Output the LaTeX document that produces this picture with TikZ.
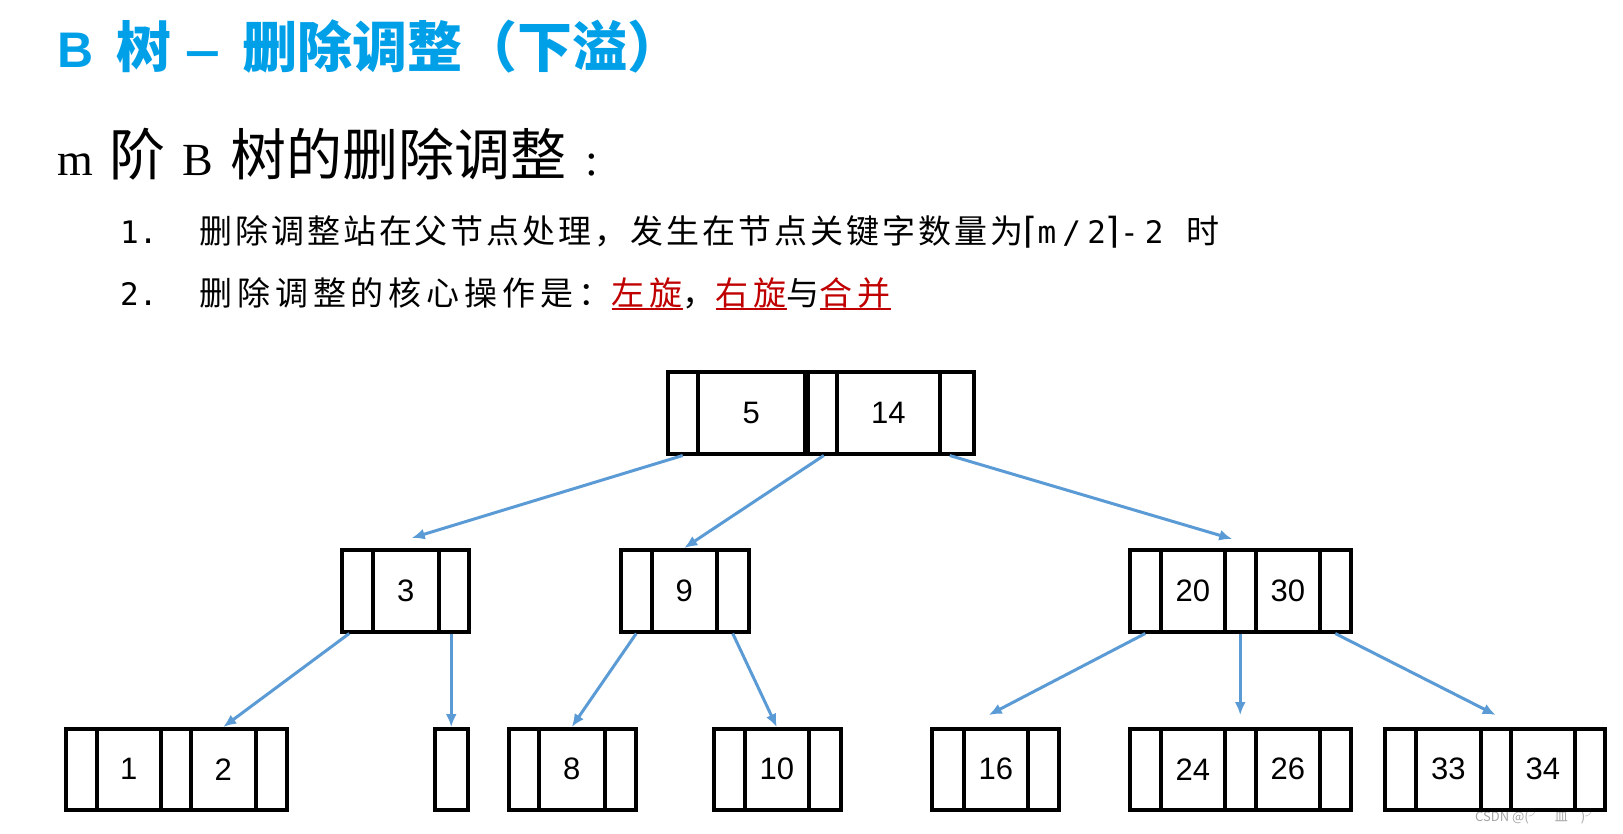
\documentclass[tikz,border=0pt]{standalone}
\usepackage{fontspec}
\usepackage{graphicx}
\usetikzlibrary{arrows.meta}
\newfontfamily\cjk[LetterSpace=9]{Noto Sans CJK SC}
\newfontfamily\cjkb[LetterSpace=15]{Noto Sans CJK SC}
\newfontfamily\cjkplain{Noto Sans CJK SC}
\newfontfamily\monof[LetterSpace=20]{DejaVu Sans Mono}
\newfontfamily\monoplain{DejaVu Sans Mono}
\newfontfamily\dejavu{DejaVu Sans}
\newfontfamily\arialf{Liberation Sans}
\newfontfamily\serifl{Liberation Serif}
\definecolor{titleblue}{RGB}{0,160,233}
\definecolor{arrowblue}{RGB}{91,155,213}
\definecolor{ulred}{RGB}{192,0,0}
\definecolor{wmgray}{RGB}{165,165,165}
\newcommand\redul[1]{{\color{ulred}\setbox0=\hbox{#1}\rlap{\rule[-5pt]{\wd0}{2pt}}\box0}}
\newcommand\cellnode[6]{\node[cell,minimum width={#4pt-#3pt},minimum height={#6pt}] (#1) at (#3,#5) {#2};}
\tikzset{
  cell/.style={draw, line width=3.5pt, inner sep=0pt, anchor=north west,
    font=\arialf\fontsize{31}{31}\selectfont},
  txt/.style={anchor=base west, inner sep=0pt},
  arr/.style={draw=arrowblue, line width=3pt, -{Latex[length=13pt,width=11pt]}}
}
\begin{document}
\begin{tikzpicture}[x=1pt,y=-1pt]
\useasboundingbox[fill=white] (0,0) rectangle (1623,833);

% texts
\node[txt, text=titleblue] (title) at (57,67)
  {{\arialf\bfseries\fontsize{50}{60}\selectfont B}\hspace{23pt}{\cjkplain\bfseries\fontsize{55}{60}\selectfont 树}\hspace{14pt}{\arialf\bfseries\fontsize{50}{60}\selectfont \scalebox{1.25}[1]{–}}\hspace{22pt}{\cjkplain\bfseries\fontsize{55}{60}\selectfont 删除调整（下溢）}};
\node[txt] (sub) at (57,175)
  {{\serifl\fontsize{46}{50}\selectfont m}\hspace{17pt}{\cjkplain\fontsize{56}{60}\selectfont 阶}\hspace{17pt}{\serifl\fontsize{46}{50}\selectfont B}\hspace{17pt}{\cjkplain\fontsize{56}{60}\selectfont 树的删除调整}\hspace{19pt}{\serifl\fontsize{46}{50}\selectfont :}};
\node[txt] (line1) at (120,243)
  {{\monoplain\fontsize{31}{32}\selectfont\makebox[79pt][l]{1.}}{\cjk\fontsize{33}{36}\selectfont 删除调整站在父节点处理，发生在节点关键字数量为}\makebox[163pt][l]{{\dejavu\fontsize{36}{36}\selectfont ⌈}{\monof\fontsize{31}{32}\selectfont m/2}{\dejavu\fontsize{36}{36}\selectfont ⌉}{\monof\fontsize{31}{32}\selectfont -2}}{\cjk\fontsize{33}{36}\selectfont 时}};
\node[txt] (line2) at (120,305)
  {{\monoplain\fontsize{31}{32}\selectfont\makebox[79pt][l]{2.}}{\cjkb\fontsize{33}{36}\selectfont 删除调整的核心操作是：\redul{左旋}，\redul{右旋}与\redul{合并}}};
\node[txt, text=wmgray] (wm) at (1475,821)
  {\cjkplain\fontsize{13}{14}\selectfont CSDN @(╯￣皿￣)╯};

% root
\cellnode{r0}{}{666}{696}{370}{82}
\cellnode{r1}{5}{696}{803}{370}{82}
\cellnode{r2}{}{803}{835}{370}{82}
\cellnode{r3}{14}{835}{938}{370}{82}
\cellnode{r4}{}{938}{972}{370}{82}
\draw[line width=6pt] (r1.north east) -- (r1.south east);

% level 2
\cellnode{a0}{}{340}{371}{548}{82}
\cellnode{a1}{3}{371}{437}{548}{82}
\cellnode{a2}{}{437}{467}{548}{82}

\cellnode{b0}{}{619}{650}{548}{82}
\cellnode{b1}{9}{650}{715}{548}{82}
\cellnode{b2}{}{715}{747}{548}{82}

\cellnode{c0}{}{1128}{1159}{548}{82}
\cellnode{c1}{20}{1159}{1223}{548}{82}
\cellnode{c2}{}{1223}{1254}{548}{82}
\cellnode{c3}{30}{1254}{1318}{548}{82}
\cellnode{c4}{}{1318}{1349}{548}{82}

% leaves
\cellnode{d0}{}{64}{95}{727}{81}
\cellnode{d1}{1}{95}{159}{727}{81}
\cellnode{d2}{}{159}{189}{727}{81}
\cellnode{d3}{2}{189}{254}{727}{81}
\cellnode{d4}{}{254}{285}{727}{81}

\cellnode{e0}{}{433}{466}{727}{81}

\cellnode{f0}{}{507}{537}{727}{81}
\cellnode{f1}{8}{537}{603}{727}{81}
\cellnode{f2}{}{603}{634}{727}{81}

\cellnode{g0}{}{712}{743}{727}{81}
\cellnode{g1}{10}{743}{807}{727}{81}
\cellnode{g2}{}{807}{839}{727}{81}

\cellnode{h0}{}{930}{962}{727}{81}
\cellnode{h1}{16}{962}{1026}{727}{81}
\cellnode{h2}{}{1026}{1057}{727}{81}

\cellnode{i0}{}{1128}{1159}{727}{81}
\cellnode{i1}{24}{1159}{1223}{727}{81}
\cellnode{i2}{}{1223}{1254}{727}{81}
\cellnode{i3}{26}{1254}{1318}{727}{81}
\cellnode{i4}{}{1318}{1349}{727}{81}

\cellnode{j0}{}{1383}{1414}{727}{81}
\cellnode{j1}{33}{1414}{1479}{727}{81}
\cellnode{j2}{}{1479}{1509}{727}{81}
\cellnode{j3}{34}{1509}{1573}{727}{81}
\cellnode{j4}{}{1573}{1603}{727}{81}

% connectors
\draw[arr] (r0.south) -- ([shift={(6,-10)}]a1.north);
\draw[arr] ([xshift=3pt]r2.south) -- (b1.north);
\draw[arr] ([xshift=-7pt]r4.south) -- ([shift={(-8,-9)}]c2.north);
\draw[arr] ([xshift=-8pt]a0.south) -- (d3.north);
\draw[arr] (e0.north |- a2.south) -- (e0.north);
\draw[arr] (b0.south) -- (f1.north);
\draw[arr] (b2.south) -- (g1.north);
\draw[arr] (c0.south) -- ([shift={(-7,-12)}]h1.north);
\draw[arr] (c2.south) -- ([yshift=12pt]i2.north);
\draw[arr] (c4.south) -- ([yshift=12pt]j2.north);
\end{tikzpicture}
\end{document}
